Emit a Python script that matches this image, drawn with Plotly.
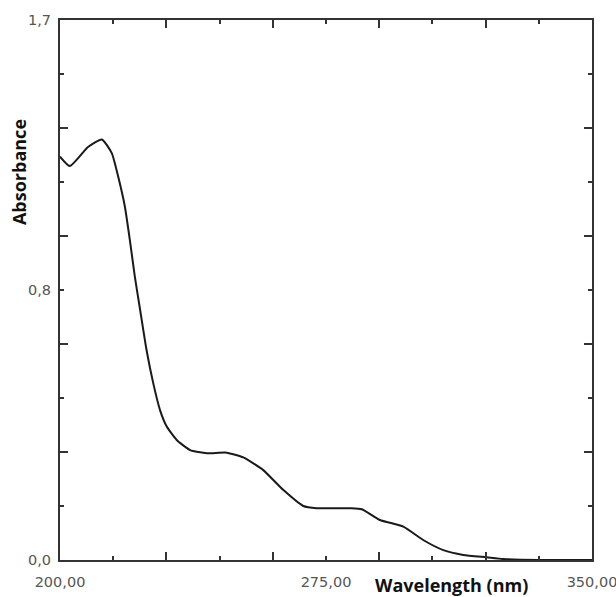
import plotly.graph_objects as go

# Data
wavelength = [200.0, 202.8, 207.9, 211.8, 214.6, 216.4, 218.3, 219.7, 221.1, 222.6,
              224.4, 226.3, 228.2, 230.1, 232.9, 236.7, 241.4, 247.0, 251.7, 257.3,
              263.0, 268.6, 272.4, 281.8, 285.1, 290.2, 296.8, 302.4, 308.1, 313.7,
              320.3, 325.0, 335.0, 350.0]
absorbance = [1.270, 1.240, 1.300, 1.324, 1.281, 1.207, 1.112, 1.007, 0.892, 0.787,
              0.661, 0.556, 0.472, 0.420, 0.378, 0.346, 0.336, 0.338, 0.323, 0.283,
              0.220, 0.170, 0.163, 0.163, 0.160, 0.126, 0.105, 0.063, 0.031, 0.016,
              0.0085, 0.003, 0.0, 0.0]

x_label_vals = [200, 275, 350]
x_label_text = ["200,00", "275,00", "350,00"]
x_minor_ticks = [215, 245, 305, 335]
x_major_ticks = [230, 260, 290, 320]

y_label_vals = [0.0, 0.85, 1.7]
y_label_text = ["0,0", "0,8", "1,7"]
y_minor_ticks = [0.17, 0.51, 1.19, 1.53]
y_major_ticks = [0.34, 0.68, 1.02, 1.36]

frame = "#333333"
tickfont = dict(family="DejaVu Sans, sans-serif", size=14.5, color="#555555")
titlefont = dict(family="Open Sans, sans-serif", size=18, color="#111111")

fig = go.Figure()
fig.add_trace(go.Scatter(x=wavelength, y=absorbance, mode="lines",
                         line=dict(color="#1a1a1a", width=2, shape="spline", smoothing=0.5),
                         hoverinfo="skip", showlegend=False))
# helper trace to activate overlay axes
fig.add_trace(go.Scatter(x=[None], y=[None], xaxis="x2", yaxis="y2",
                         showlegend=False, hoverinfo="skip"))

fig.update_layout(
    width=616, height=597,
    margin=dict(l=60, r=24, t=20, b=37),
    paper_bgcolor="white", plot_bgcolor="white",
    xaxis=dict(range=[200, 350], tickmode="array", tickvals=x_label_vals, ticktext=x_label_text,
               ticks="inside", ticklen=4, tickwidth=1.5, tickcolor=frame,
               minor=dict(tickmode="array", tickvals=x_minor_ticks, ticks="inside",
                          ticklen=4, tickwidth=1.5, tickcolor=frame, showgrid=False),
               showline=True, linecolor=frame, linewidth=2, mirror="ticks",
               showgrid=False, zeroline=False, tickfont=tickfont, ticklabelstandoff=8,
               ticklabeloverflow="allow", automargin=False),
    yaxis=dict(range=[0, 1.7], tickmode="array", tickvals=y_label_vals, ticktext=y_label_text,
               ticks="inside", ticklen=4, tickwidth=1.5, tickcolor=frame,
               minor=dict(tickmode="array", tickvals=y_minor_ticks, ticks="inside",
                          ticklen=4, tickwidth=1.5, tickcolor=frame, showgrid=False),
               showline=True, linecolor=frame, linewidth=2, mirror="ticks",
               showgrid=False, zeroline=False, tickfont=tickfont, ticklabelstandoff=4,
               ticklabeloverflow="allow", automargin=False),
    xaxis2=dict(range=[200, 350], overlaying="x", side="bottom", tickmode="array",
                tickvals=x_major_ticks, ticks="inside", ticklen=8, tickwidth=1.5,
                tickcolor=frame, showticklabels=False, showgrid=False, zeroline=False,
                showline=False, mirror="ticks", automargin=False),
    yaxis2=dict(range=[0, 1.7], overlaying="y", side="left", tickmode="array",
                tickvals=y_major_ticks, ticks="inside", ticklen=8, tickwidth=1.5,
                tickcolor=frame, showticklabels=False, showgrid=False, zeroline=False,
                showline=False, mirror="ticks", automargin=False),
    annotations=[
        dict(text="<b>Absorbance</b>", xref="paper", yref="paper", x=-0.077, y=0.7185,
             textangle=-90, showarrow=False, xanchor="center", yanchor="middle",
             font=titlefont),
        dict(text="<b>Wavelength (nm)</b>", xref="paper", yref="paper", x=0.7368, y=-0.047,
             showarrow=False, xanchor="center", yanchor="middle",
             font=titlefont),
    ],
)

fig.write_html("out.html", config={"displayModeBar": False},
               post_script="document.body.style.margin='0';document.body.style.overflow='hidden';")
